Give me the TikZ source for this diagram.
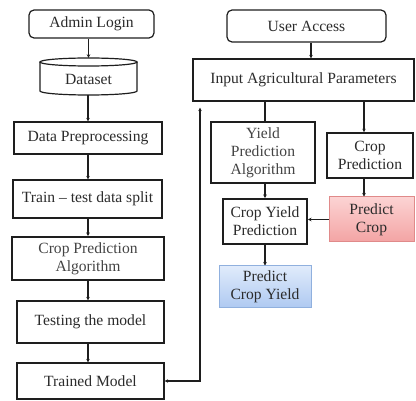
\documentclass[tikz,border=0pt]{standalone}
\usepackage{fontspec}
\setmainfont{Liberation Serif}
\usetikzlibrary{arrows.meta}

\definecolor{inkline}{HTML}{1E1E1E}
\definecolor{inktext}{HTML}{2B2B2B}
\definecolor{softtext}{HTML}{444444}
\definecolor{redtop}{HTML}{FCD3D3}
\definecolor{redbot}{HTML}{F3A4A4}
\definecolor{redline}{HTML}{E08A8A}
\definecolor{bluetop}{HTML}{E0EBFB}
\definecolor{bluebot}{HTML}{AEC9F1}
\definecolor{blueline}{HTML}{90B0DE}

\tikzset{
  box/.style={draw=inkline, line width=1.2pt, fill=white, inner sep=0pt,
    align=center, text=inktext, font=\fontsize{15.6}{18}\selectfont},
  thickbox/.style={box, line width=2pt},
  roundbox/.style={box, rounded corners=5pt},
  redbox/.style={box, draw=redline, line width=1pt, top color=redtop, bottom color=redbot},
  bluebox/.style={box, draw=blueline, line width=1pt, top color=bluetop, bottom color=bluebot},
  arr/.style={draw=inkline, line width=1.3pt, -{Stealth[length=3.5pt,width=3.5pt]}},
  plain/.style={draw=inkline, line width=1.3pt},
  fback/.style={draw=inkline, line width=1.3pt,
    {Stealth[length=3.5pt,width=3.5pt]}-{Stealth[length=3.5pt,width=3.5pt]}},
}

\begin{document}
\begin{tikzpicture}[x=1pt,y=-1pt]
\useasboundingbox (0,0) rectangle (416,401);

% ---- training side ----
\node[roundbox, minimum width=125, minimum height=28] (admin) at (91.5,24) {Admin Login};

% dataset drum
\draw[draw=inkline, line width=1.2pt, fill=white]
  (40,62) -- (40,91) arc[start angle=180, end angle=0, x radius=48.5, y radius=4] -- (137,62);
\draw[draw=inkline, line width=1.2pt, fill=white] (88.5,62) ellipse [x radius=48.5, y radius=4];
\node[inner sep=0pt, minimum width=97, minimum height=37] (dataset) at (88.5,76.5) {};
\node[text=inktext, font=\fontsize{15.6}{18}\selectfont] at (88.5,79.5) {Dataset};

\node[box, minimum width=148, minimum height=32] (prep) at (88,138) {Data Preprocessing};
\node[box, minimum width=149, minimum height=38] (split) at (87.5,199) {Train -- test data split};
\node[thickbox, text=softtext, minimum width=152, minimum height=43] (algo) at (88,258.5) {Crop Prediction\\Algorithm};
\node[box, minimum width=147, minimum height=42] (test) at (90.5,322) {Testing the model};
\node[box, minimum width=147, minimum height=36] (trained) at (90.5,381) {Trained Model};

\draw[arr] (admin.south -| dataset.north) -- (dataset.north);
\draw[arr] (dataset.south -| prep.north) -- (prep.north);
\draw[arr] (prep.south) -- (prep.south |- split.north);
\draw[arr] (split.south -| algo.north) -- (algo.north);
\draw[arr] (algo.south) -- (algo.south |- test.north);
\draw[arr] (test.south -| algo.south) -- (algo.south |- trained.north);

% ---- user side ----
\node[roundbox, minimum width=159, minimum height=32] (user) at (306.5,26) {User Access};
\node[box, minimum width=221, minimum height=42] (input) at (303.5,80) {Input Agricultural Parameters};
\node[thickbox, text=softtext, minimum width=104, minimum height=61] (yalgo) at (263,152.5) {Yield\\Prediction\\Algorithm};
\node[box, line width=1.6pt, minimum width=86, minimum height=45] (cpred) at (370,155.5) {Crop\\Prediction};
\node[thickbox, minimum width=84, minimum height=45] (cyp) at (265,221.5) {Crop Yield\\Prediction};
\node[redbox, minimum width=85, minimum height=45] (pcrop) at (371.5,219.5) {Predict\\Crop};
\node[bluebox, minimum width=92, minimum height=42] (pcy) at (265,287) {Predict\\Crop Yield};

\draw[arr] ([xshift=4.5pt]user.south) -- ([xshift=4.5pt]user.south |- input.north);
\draw[plain] (yalgo.north -| cyp.north) -- (cyp.north |- input.south);
\draw[arr] ([xshift=-6pt]cpred.north |- input.south) -- ([xshift=-6pt]cpred.north);
\draw[arr] (cyp.north |- yalgo.south) -- (cyp.north);
\draw[arr] ([xshift=-6pt]cpred.south) -- ([xshift=-6pt]cpred.south |- pcrop.north);
\draw[arr] (pcrop.west) -- (pcrop.west -| cyp.east);
\draw[arr] (cyp.south) -- (pcy.north);

% ---- feedback from trained model to the input stage ----
\coordinate (fb) at (200,381);
\draw[fback] (trained.east) -- (fb) -- ([yshift=-6pt]fb |- input.south);
\end{tikzpicture}
\end{document}
